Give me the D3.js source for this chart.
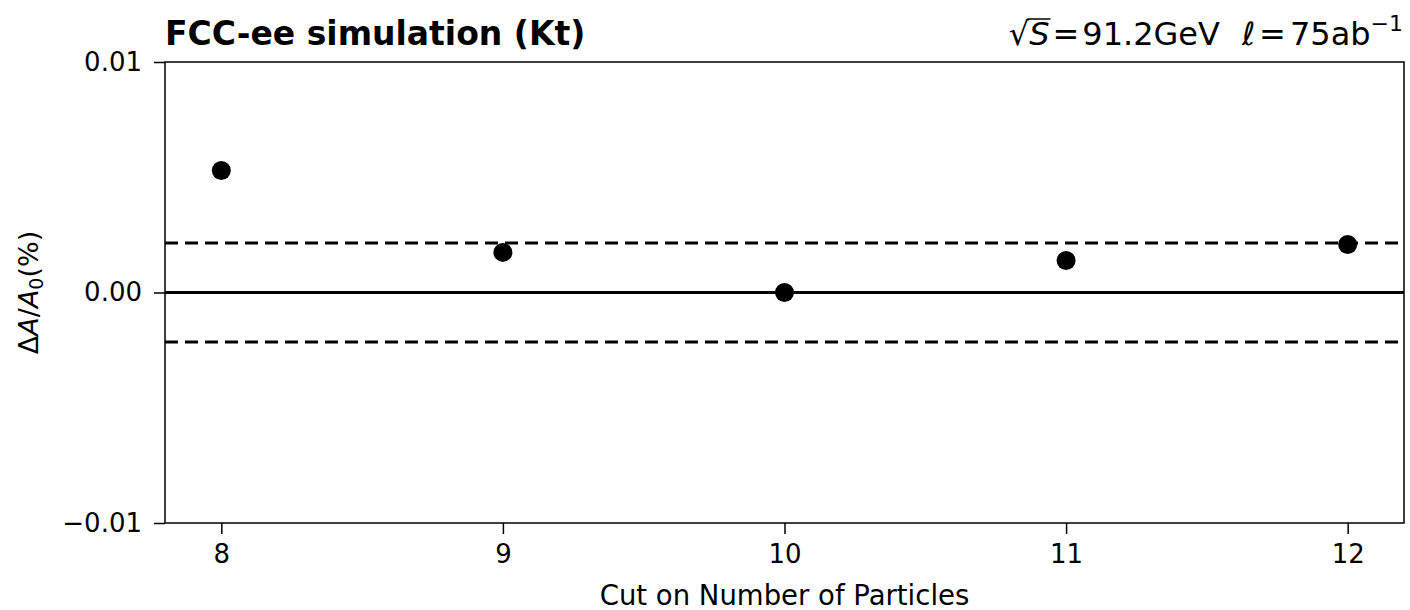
<!DOCTYPE html>
<html>
<head>
<meta charset="utf-8">
<script src="https://cdn.jsdelivr.net/npm/d3@7"></script>
<style>
  body { margin: 0; background: #fff; }
  text { font-family: "DejaVu Sans", sans-serif; fill: #000; }
</style>
</head>
<body>
<script>
// cut values and relative change of the asymmetry
var cuts = [8, 9, 10, 11, 12];
var deltaA = [0.00529, 0.00174, 0.0, 0.00139, 0.00208];
var band = 0.00215; // statistical band (dashed lines)
var yTicks = [-0.01, 0.0, 0.01];

var W = 1410, H = 610;
var margin = { top: 62, right: 6, bottom: 87, left: 165 };

var svg = d3.select("body")
    .append("svg")
    .attr("width", W)
    .attr("height", H);

var x = d3.scaleLinear()
    .domain([7.8, 12.2])
    .range([margin.left, W - margin.right]);

var y = d3.scaleLinear()
    .domain([-0.01, 0.01])
    .range([H - margin.bottom, margin.top]);

// horizontal reference lines
svg.append("line")
    .attr("x1", x(7.8)).attr("x2", x(12.2))
    .attr("y1", y(0)).attr("y2", y(0))
    .attr("stroke", "#000")
    .attr("stroke-width", 3);

svg.selectAll(".band")
    .data([band, -band])
    .enter()
    .append("line")
    .attr("class", "band")
    .attr("x1", x(7.8)).attr("x2", x(12.2))
    .attr("y1", d => y(d)).attr("y2", d => y(d))
    .attr("stroke", "#000")
    .attr("stroke-width", 3)
    .attr("stroke-dasharray", "13,7");

// points
svg.selectAll(".pt")
    .data(cuts)
    .enter()
    .append("circle")
    .attr("class", "pt")
    .attr("cx", d => x(d))
    .attr("cy", (d, i) => y(deltaA[i]))
    .attr("r", 9.5)
    .attr("fill", "#000");

// axes
var xAxis = d3.axisBottom(x)
    .tickValues(cuts)
    .tickSize(11)
    .tickPadding(11)
    .tickFormat(d3.format("d"));

var yAxis = d3.axisLeft(y)
    .tickValues(yTicks)
    .tickSize(11)
    .tickPadding(12)
    .tickFormat(d => d === 0 ? "0.00" : (d < 0 ? "\u22120.01" : "0.01"));

var gx = svg.append("g")
    .attr("transform", "translate(0," + (H - margin.bottom) + ")")
    .call(xAxis);

var gy = svg.append("g")
    .attr("transform", "translate(" + margin.left + ",0)")
    .call(yAxis);

[gx, gy].forEach(function(g){
    g.select(".domain").remove();
    g.selectAll(".tick line").attr("stroke", "#000").attr("stroke-width", 1.5);
    g.selectAll(".tick text")
        .attr("font-size", 26)
        .attr("font-family", "DejaVu Sans")
        .attr("fill", "#000");
});

// frame
svg.append("rect")
    .attr("x", margin.left)
    .attr("y", margin.top)
    .attr("width", W - margin.right - margin.left)
    .attr("height", H - margin.bottom - margin.top)
    .attr("fill", "none")
    .attr("stroke", "#000")
    .attr("stroke-width", 1.5);

// x label
svg.append("text")
    .attr("x", (x(7.8) + x(12.2)) / 2)
    .attr("y", 605)
    .attr("text-anchor", "middle")
    .attr("font-size", 27.5)
    .text("Cut on Number of Particles");

// y label
var ylab = svg.append("text")
    .attr("transform", "translate(38," + y(0) + ") rotate(-90)")
    .attr("text-anchor", "middle")
    .attr("font-size", 27);
ylab.append("tspan").text("\u0394");
ylab.append("tspan").attr("font-style", "italic").text("A");
ylab.append("tspan").text("/");
ylab.append("tspan").attr("font-style", "italic").text("A");
ylab.append("tspan").attr("font-size", 19).attr("dy", 5).text("0");
ylab.append("tspan").attr("dy", -5).text("(%)");

// title
svg.append("text")
    .attr("x", margin.left)
    .attr("y", 45)
    .attr("font-size", 33)
    .attr("font-weight", "bold")
    .text("FCC-ee simulation (Kt)");

// energy / luminosity label
var info = svg.append("text")
    .attr("x", W - margin.right - 1)
    .attr("y", 45)
    .attr("text-anchor", "end")
    .attr("font-size", 32);
info.append("tspan").text("\u221A");
info.append("tspan").attr("font-style", "italic").text("S");
info.append("tspan").attr("dx", 3).text("=");
info.append("tspan").attr("dx", 3).text("91.2GeV");
info.append("tspan").attr("dx", 22).attr("font-style", "italic").text("\u2113");
info.append("tspan").attr("dx", 4).text("=");
info.append("tspan").attr("dx", 4).text("75ab");
info.append("tspan").attr("font-size", 22).attr("dy", -14).text("\u22121");

// overbar of the square root
var rootBox = info.node().getExtentOfChar(0);
var sBox = info.node().getExtentOfChar(1);
svg.append("line")
    .attr("x1", rootBox.x + rootBox.width - 2)
    .attr("x2", sBox.x + sBox.width + 1)
    .attr("y1", rootBox.y + 4)
    .attr("y2", rootBox.y + 4)
    .attr("stroke", "#000")
    .attr("stroke-width", 1.5);
</script>
</body>
</html>
